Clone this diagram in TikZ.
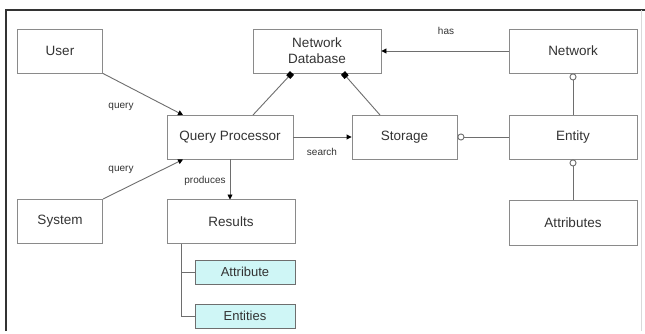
\documentclass[tikz,border=0pt]{standalone}
\usepackage{fontspec}
\setmainfont{Liberation Sans}
\usetikzlibrary{arrows.meta}
\definecolor{boxline}{HTML}{8A8A8A}
\definecolor{conline}{HTML}{6E6E6E}
\definecolor{txt}{HTML}{333333}
\definecolor{cyanfill}{HTML}{CFF6F6}
\begin{document}
\begin{tikzpicture}[x=1pt,y=-1pt,
  box/.style={draw=boxline,line width=0.9pt,minimum width=#1,minimum height=44pt,inner sep=0pt,font=\fontsize{13.5}{16}\selectfont,text=txt,align=center},
  box/.default=85pt,
  subbox/.style={draw=conline,line width=0.9pt,fill=cyanfill,minimum width=100pt,minimum height=24pt,inner sep=0pt,font=\fontsize{13}{15}\selectfont,text=txt},
  con/.style={draw=conline,line width=0.9pt},
  lbl/.style={font=\fontsize{10}{12}\selectfont,text=txt},
  arr/.style={-{Triangle[length=5pt,width=5pt,color=black]}},
  fdia/.style={-{Square[length=5.5pt,width=5.5pt,color=black]}},
  odia/.style={-{Circle[open,length=7pt,width=7pt,fill=white]}},
  odias/.style={{Circle[open,length=7pt,width=7pt,fill=white]}-}
]
\useasboundingbox (0,0) rectangle (645,334);
\fill[white] (0,0) rectangle (645,334);
% frame
\draw[line width=1.6pt,color=black!80] (6,331) -- (6,10) -- (645,10);
\draw[line width=0.6pt,color=black!15] (641,10) -- (641,331);
% nodes
\node[box] (user) at (60,51) {User};
\node[box=128pt] (nd) at (317,51) {Network\\Database};
\node[box=128pt] (net) at (573,51) {Network};
\node[box=126pt] (qp) at (230,137) {Query Processor};
\node[box=105pt] (sto) at (404.5,137) {Storage};
\node[box=128pt] (ent) at (573,137) {Entity};
\node[box] (sys) at (60,221.5) {System};
\node[box=128pt] (res) at (231,221.5) {Results};
\node[box=128pt,minimum height=45pt] (att) at (573,222.5) {Attributes};
\node[subbox] (attr) at (245,272) {Attribute};
\node[subbox] (ents) at (245,316) {Entities};
% connectors
\draw[con,arr] (user.south east) -- (183,115);
\node[lbl] (q1) at (121,107) {query};
\draw[con,arr] (sys.north east) -- (183,159.5);
\node[lbl] (q2) at (121,170) {query};
\draw[con,fdia] (253,115) -- (292,73);
\draw[con,fdia] (380,115) -- (343,73);
\draw[con,arr] (qp.east) -- (sto.west);
\node[lbl] (srch) at (322,152) {search};
\draw[con,arr] (230,159) -- (230,199.5);
\node[lbl] (prod) at (205,181) {produces};
\draw[con,arr] (net.west) -- (nd.east);
\node[lbl] (has) at (446,31) {has};
\draw[con,odia] (ent.west) -- (sto.east);
\draw[con,odia] (ent.north) -- (net.south);
\draw[con,odias] (ent.south) -- (att.north);
\draw[con] (181,243.5) -- (181,316) -- (ents.west);
\draw[con] (181,272) -- (attr.west);
\end{tikzpicture}
\end{document}
